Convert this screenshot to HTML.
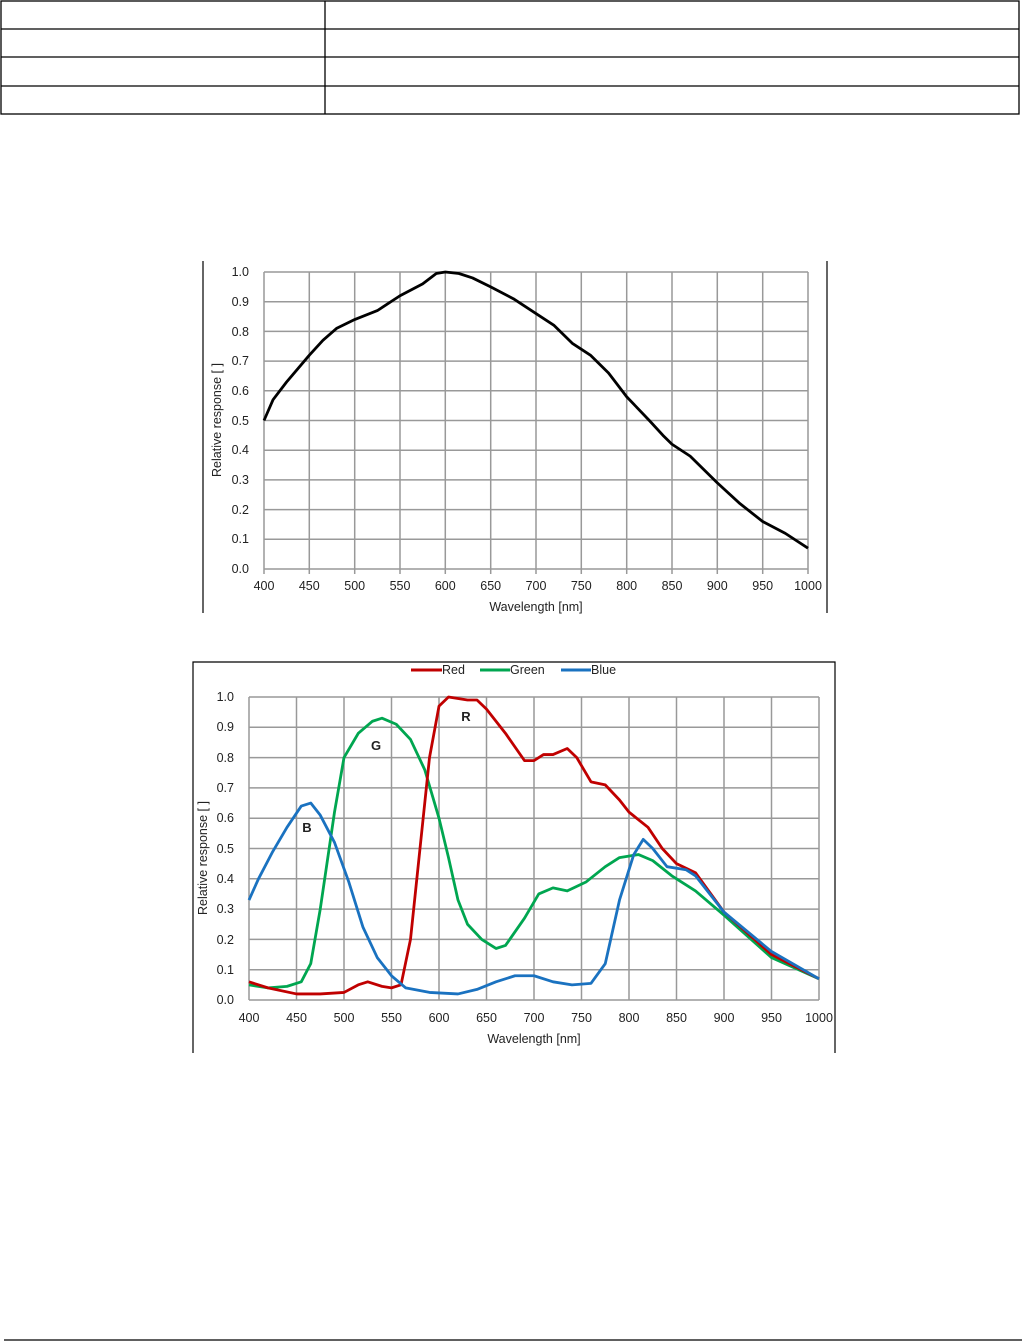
<!DOCTYPE html>
<html><head><meta charset="utf-8"><style>
html,body{margin:0;padding:0;background:#fff;}
svg{display:block;}
text{font-family:"Liberation Sans",sans-serif;fill:#222;}
</style></head><body>
<svg width="1022" height="1342" viewBox="0 0 1022 1342" xmlns="http://www.w3.org/2000/svg">
<!-- table -->
<g stroke="#000" stroke-width="1.3" fill="none">
<rect x="1" y="1" width="1018" height="113"/>
<line x1="1" y1="29" x2="1019" y2="29"/>
<line x1="1" y1="57" x2="1019" y2="57"/>
<line x1="1" y1="86" x2="1019" y2="86"/>
<line x1="325" y1="1" x2="325" y2="114"/>
</g>
<!-- chart 1 frame -->
<g stroke="#000" stroke-width="1.2">
<line x1="203" y1="261" x2="203" y2="613"/>
<line x1="827" y1="261" x2="827" y2="613"/>
</g>
<g stroke="#999" stroke-width="1.5" fill="none">
<path d="M264 272V574M309.3 272V574M354.7 272V574M400 272V574M445.3 272V574M490.7 272V574M536 272V574M581.3 272V574M626.7 272V574M672 272V574M717.3 272V574M762.7 272V574M808 272V574"/>
<path d="M264 569H808M264 539.3H808M264 509.6H808M264 479.9H808M264 450.2H808M264 420.5H808M264 390.8H808M264 361.1H808M264 331.4H808M264 301.7H808M264 272H808"/>
</g>
<g transform="translate(-98.67,569) scale(0.90667,-297)">
<polyline vector-effect="non-scaling-stroke" fill="none" stroke="#000" stroke-width="2.8" stroke-linejoin="round" points="400,.5 410,.57 425,.63 450,.72 465,.77 480,.81 500,.84 525,.87 550,.92 575,.96 590,.995 600,1 615,.995 630,.98 650,.95 675,.91 700,.86 720,.82 740,.76 760,.72 780,.66 800,.58 825,.5 840,.45 850,.42 870,.38 900,.29 925,.22 950,.16 975,.12 1000,.07"/>
</g>
<g font-size="12.5" text-anchor="end">
<text x="249" y="276">1.0</text><text x="249" y="306">0.9</text><text x="249" y="336">0.8</text><text x="249" y="365">0.7</text><text x="249" y="395">0.6</text><text x="249" y="425">0.5</text><text x="249" y="454">0.4</text><text x="249" y="484">0.3</text><text x="249" y="514">0.2</text><text x="249" y="543">0.1</text><text x="249" y="573">0.0</text>
</g>
<g font-size="12.5" text-anchor="middle">
<text x="264" y="590">400</text><text x="309.3" y="590">450</text><text x="354.7" y="590">500</text><text x="400" y="590">550</text><text x="445.3" y="590">600</text><text x="490.7" y="590">650</text><text x="536" y="590">700</text><text x="581.3" y="590">750</text><text x="626.7" y="590">800</text><text x="672" y="590">850</text><text x="717.3" y="590">900</text><text x="762.7" y="590">950</text><text x="808" y="590">1000</text>
<text x="536" y="611">Wavelength [nm]</text>
<text transform="translate(221,420) rotate(-90)">Relative response [ ]</text>
</g>
<!-- chart 2 -->
<g stroke="#000" stroke-width="1.2" fill="none">
<path d="M193 1053V662H835V1053"/>
</g>
<g stroke="#999" stroke-width="1.5" fill="none">
<path d="M249 697V1000M296.5 697V1000M344 697V1000M391.5 697V1000M439 697V1000M486.5 697V1000M534 697V1000M581.5 697V1000M629 697V1000M676.5 697V1000M724 697V1000M771.5 697V1000M819 697V1000"/>
<path d="M249 1000H819M249 969.7H819M249 939.4H819M249 909.1H819M249 878.8H819M249 848.5H819M249 818.2H819M249 787.9H819M249 757.6H819M249 727.3H819M249 697H819"/>
</g>
<g transform="translate(-131,1000) scale(0.95,-303)" fill="none" stroke-width="2.8" stroke-linejoin="round">
<polyline vector-effect="non-scaling-stroke" stroke="#00a650" points="400,.05 420,.04 440,.045 455,.06 465,.12 475,.3 490,.62 500,.8 515,.88 530,.92 540,.93 555,.91 570,.86 585,.76 600,.6 610,.47 620,.33 630,.25 645,.2 660,.17 670,.18 690,.27 705,.35 720,.37 735,.36 755,.39 775,.44 790,.47 810,.48 825,.46 845,.41 870,.36 900,.28 950,.14 1000,.07"/>
<polyline vector-effect="non-scaling-stroke" stroke="#c00000" points="400,.06 420,.04 450,.02 475,.02 500,.025 515,.05 525,.06 540,.045 550,.04 560,.05 570,.2 580,.5 590,.8 600,.97 610,1 620,.995 630,.99 640,.99 650,.96 670,.88 690,.79 700,.79 710,.81 720,.81 735,.83 745,.8 760,.72 775,.71 790,.66 800,.62 820,.57 835,.5 850,.45 870,.42 900,.29 950,.15 1000,.07"/>
<polyline vector-effect="non-scaling-stroke" stroke="#1a72c0" points="400,.33 410,.4 425,.49 440,.57 455,.64 465,.65 475,.61 490,.52 505,.39 520,.24 535,.14 550,.08 565,.04 590,.025 620,.02 640,.035 660,.06 680,.08 700,.08 720,.06 740,.05 760,.055 775,.12 790,.33 805,.48 815,.53 825,.5 840,.44 860,.43 870,.41 900,.29 950,.16 1000,.07"/>
</g>
<g font-size="12.5" text-anchor="end">
<text x="234" y="701">1.0</text><text x="234" y="731">0.9</text><text x="234" y="762">0.8</text><text x="234" y="792">0.7</text><text x="234" y="822">0.6</text><text x="234" y="853">0.5</text><text x="234" y="883">0.4</text><text x="234" y="913">0.3</text><text x="234" y="944">0.2</text><text x="234" y="974">0.1</text><text x="234" y="1004">0.0</text>
</g>
<g font-size="12.5" text-anchor="middle">
<text x="249" y="1022">400</text><text x="296.5" y="1022">450</text><text x="344" y="1022">500</text><text x="391.5" y="1022">550</text><text x="439" y="1022">600</text><text x="486.5" y="1022">650</text><text x="534" y="1022">700</text><text x="581.5" y="1022">750</text><text x="629" y="1022">800</text><text x="676.5" y="1022">850</text><text x="724" y="1022">900</text><text x="771.5" y="1022">950</text><text x="819" y="1022">1000</text>
<text x="534" y="1043">Wavelength [nm]</text>
<text transform="translate(207,858) rotate(-90)">Relative response [ ]</text>
</g>
<g font-size="12.5">
<line x1="411" y1="670" x2="442" y2="670" stroke="#c00000" stroke-width="3"/><text x="442" y="674">Red</text>
<line x1="480" y1="670" x2="510" y2="670" stroke="#00a650" stroke-width="3"/><text x="510" y="674">Green</text>
<line x1="561" y1="670" x2="591" y2="670" stroke="#1a72c0" stroke-width="3"/><text x="591" y="674">Blue</text>
</g>
<g font-size="13" font-weight="bold" text-anchor="middle">
<text x="466" y="721">R</text><text x="376" y="750">G</text><text x="307" y="832">B</text>
</g>
<line x1="4" y1="1340" x2="1022" y2="1340" stroke="#000" stroke-width="1.3"/>
</svg>
</body></html>
